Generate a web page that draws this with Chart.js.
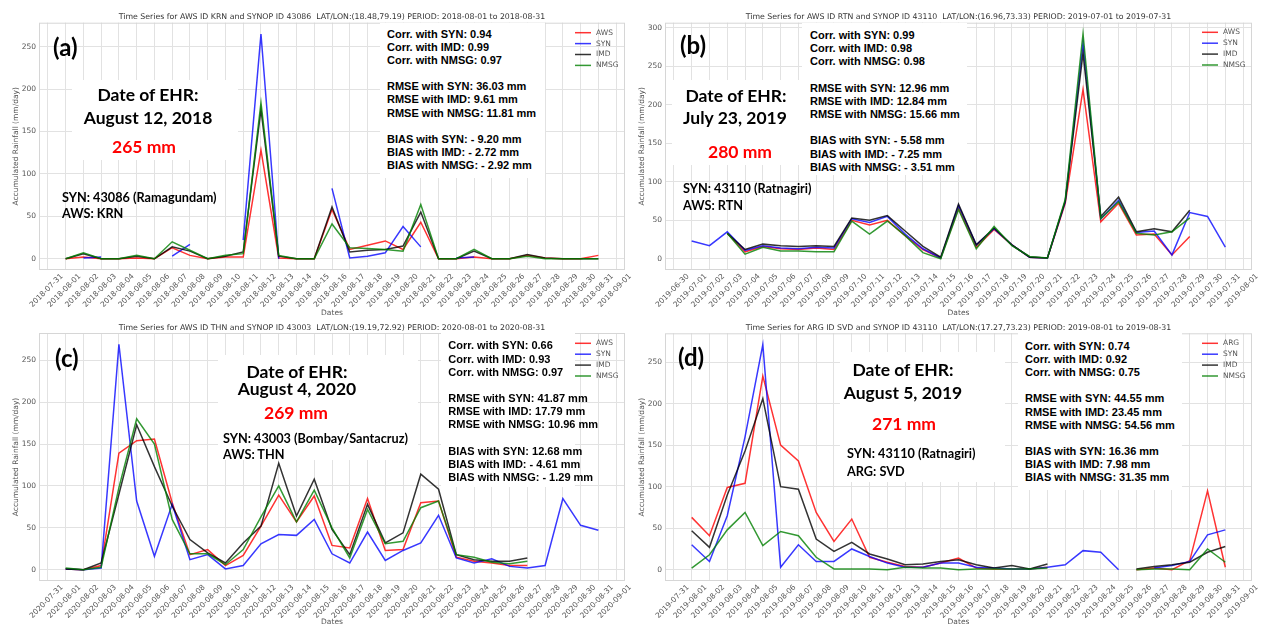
<!DOCTYPE html>
<html><head><meta charset="utf-8">
<script src="https://cdn.jsdelivr.net/npm/chart.js@4.4.1/dist/chart.umd.min.js"></script>
<style>
html,body{margin:0;padding:0;background:#fff;}
#wrap{position:relative;width:1266px;height:627px;overflow:hidden;background:#fff;}
canvas{position:absolute;}
.box{position:absolute;background:#fff;}
.stats{position:absolute;background:#fff;font-family:"Liberation Sans",Arial,sans-serif;font-weight:bold;font-size:11px;line-height:13.15px;color:#000;white-space:pre;box-sizing:border-box;}
.ann{position:absolute;font-family:Lato,"Open Sans",sans-serif;font-weight:bold;color:#000;white-space:nowrap;line-height:1;}
.c{transform:translate(-50%,-50%);}
.l{transform:translate(0,-50%);}
.big{font-size:17.5px;}
.mid{font-size:12.7px;}
.lab{font-size:24px;}
.red{color:#ff0000;}
</style></head>
<body><div id="wrap">
<canvas id="ca" width="633" height="320" style="left:0;top:0"></canvas>
<canvas id="cb" width="640" height="320" style="left:626px;top:0"></canvas>
<canvas id="cc" width="633" height="314" style="left:0;top:313px"></canvas>
<canvas id="cd" width="640" height="314" style="left:626px;top:313px"></canvas>

<!-- panel (a) -->
<div class="box" style="left:72px;top:80px;width:166px;height:80px"></div>
<div class="ann lab l" style="left:53px;top:47px">(a)</div>
<div class="ann big c" style="left:148px;top:95px">Date of EHR:</div>
<div class="ann big c" style="left:148px;top:118px">August 12, 2018</div>
<div class="ann big c red" style="left:144px;top:147px">265 mm</div>
<div class="ann mid l" style="left:62px;top:197px">SYN: 43086 (Ramagundam)</div>
<div class="ann mid l" style="left:62px;top:213px">AWS: KRN</div>
<div class="stats" style="left:380px;top:23px;width:165px;height:155px;padding:4.7px 0 0 7px">Corr. with SYN: 0.94
Corr. with IMD: 0.99
Corr. with NMSG: 0.97

RMSE with SYN: 36.03 mm
RMSE with IMD: 9.61 mm
RMSE with NMSG: 11.81 mm

BIAS with SYN: - 9.20 mm
BIAS with IMD: - 2.72 mm
BIAS with NMSG: - 2.92 mm</div>

<!-- panel (b) -->
<div class="box" style="left:672px;top:80px;width:130px;height:85px"></div>
<div class="ann lab l" style="left:680px;top:45px">(b)</div>
<div class="ann big c" style="left:736px;top:96px">Date of EHR:</div>
<div class="ann big c" style="left:735px;top:118px">July 23, 2019</div>
<div class="ann big c red" style="left:740px;top:152px">280 mm</div>
<div class="ann mid l" style="left:683px;top:188px">SYN: 43110 (Ratnagiri)</div>
<div class="ann mid l" style="left:683px;top:205px">AWS: RTN</div>
<div class="stats" style="left:802px;top:23px;width:165px;height:152px;padding:6.1px 0 0 8px">Corr. with SYN: 0.99
Corr. with IMD: 0.98
Corr. with NMSG: 0.98

RMSE with SYN: 12.96 mm
RMSE with IMD: 12.84 mm
RMSE with NMSG: 15.66 mm

BIAS with SYN: - 5.58 mm
BIAS with IMD: - 7.25 mm
BIAS with NMSG: - 3.51 mm</div>

<!-- panel (c) -->
<div class="box" style="left:218px;top:355px;width:200px;height:105px"></div>
<div class="ann lab l" style="left:55px;top:358px">(c)</div>
<div class="ann big c" style="left:297px;top:372px">Date of EHR:</div>
<div class="ann big c" style="left:297px;top:389px">August 4, 2020</div>
<div class="ann big c red" style="left:296px;top:413px">269 mm</div>
<div class="ann mid l" style="left:223px;top:438px">SYN: 43003 (Bombay/Santacruz)</div>
<div class="ann mid l" style="left:223px;top:454px">AWS: THN</div>
<div class="stats" style="left:441px;top:333px;width:134px;height:154px;padding:6.4px 0 0 7.3px">Corr. with SYN: 0.66
Corr. with IMD: 0.93
Corr. with NMSG: 0.97

RMSE with SYN: 41.87 mm
RMSE with IMD: 17.79 mm
RMSE with NMSG: 10.96 mm

BIAS with SYN: 12.68 mm
BIAS with IMD: - 4.61 mm
BIAS with NMSG: - 1.29 mm</div>

<!-- panel (d) -->
<div class="box" style="left:840px;top:352px;width:165px;height:130px"></div>
<div class="ann lab l" style="left:678px;top:357px">(d)</div>
<div class="ann big c" style="left:903px;top:370px">Date of EHR:</div>
<div class="ann big c" style="left:903px;top:393px">August 5, 2019</div>
<div class="ann big c red" style="left:904px;top:424px">271 mm</div>
<div class="ann mid l" style="left:847px;top:453px">SYN: 43110 (Ratnagiri)</div>
<div class="ann mid l" style="left:847px;top:471px">ARG: SVD</div>
<div class="stats" style="left:1018px;top:333px;width:164px;height:157px;padding:6.8px 0 0 7px">Corr. with SYN: 0.74
Corr. with IMD: 0.92
Corr. with NMSG: 0.75

RMSE with SYN: 44.55 mm
RMSE with IMD: 23.45 mm
RMSE with NMSG: 54.56 mm

BIAS with SYN: 16.36 mm
BIAS with IMD: 7.98 mm
BIAS with NMSG: 31.35 mm</div>
</div>

<script>
// ---------- Panel (a) ----------
const titleA = 'Time Series for AWS ID KRN and SYNOP ID 43086  LAT/LON:(18.48,79.19) PERIOD: 2018-08-01 to 2018-08-31';
const datesA = ['2018-08-01','2018-08-02','2018-08-03','2018-08-04','2018-08-05','2018-08-06','2018-08-07','2018-08-08','2018-08-09','2018-08-10','2018-08-11','2018-08-12','2018-08-13','2018-08-14','2018-08-15','2018-08-16','2018-08-17','2018-08-18','2018-08-19','2018-08-20','2018-08-21','2018-08-22','2018-08-23','2018-08-24','2018-08-25','2018-08-26','2018-08-27','2018-08-28','2018-08-29','2018-08-30','2018-08-31'];
const ticksA = ['2018-07-31', ...datesA, '2018-09-01'];
const labelsA = ['AWS','SYN','IMD','NMSG'];
const awsA  = [0,2,0,0,1,0,13,4,0,2,2,128,1,0,0,58,11,16,21,11,43,0,0,2,0,0,4,1,0,0,4];
const synA  = [null,1,2,null,null,null,3,17,null,null,22,265,0,null,null,83,1,3,7,38,14,null,1,2,null,null,null,null,null,null,null];
const imdA  = [0,6,0,0,3,0,14,9,0,3,8,176,3,0,0,61,8,10,11,15,55,0,0,9,0,0,5,1,0,0,0];
const nmsgA = [0,7,0,0,4,0,20,10,0,4,6,184,4,0,0,41,13,12,11,9,64,0,0,11,0,0,3,0,0,0,0];
const yRangeA = [-13.25, 278.25];
const yTicksA = [0,50,100,150,200,250];

// ---------- Panel (b) ----------
const titleB = 'Time Series for AWS ID RTN and SYNOP ID 43110  LAT/LON:(16.96,73.33) PERIOD: 2019-07-01 to 2019-07-31';
const datesB = ['2019-07-01','2019-07-02','2019-07-03','2019-07-04','2019-07-05','2019-07-06','2019-07-07','2019-07-08','2019-07-09','2019-07-10','2019-07-11','2019-07-12','2019-07-13','2019-07-14','2019-07-15','2019-07-16','2019-07-17','2019-07-18','2019-07-19','2019-07-20','2019-07-21','2019-07-22','2019-07-23','2019-07-24','2019-07-25','2019-07-26','2019-07-27','2019-07-28','2019-07-29','2019-07-30','2019-07-31'];
const ticksB = ['2019-06-30', ...datesB, '2019-08-01'];
const labelsB = ['AWS','SYN','IMD','NMSG'];
const awsB  = [null,null,33,9,16,13,12,14,12,50,44,50,30,12,1,66,15,38,18,2,1,72,220,48,72,31,32,5,29,null,null];
const synB  = [23,17,35,11,17,14,13,15,14,52,47,55,32,13,1,69,18,39,18,2,1,74,280,52,76,34,36,5,60,55,15];
const imdB  = [null,null,33,12,19,17,16,17,16,53,50,56,36,16,2,71,18,40,18,2,1,75,267,55,80,35,39,35,63,null,null];
const nmsgB = [null,null,33,6,15,10,10,9,9,49,32,49,30,8,0,64,13,42,17,3,1,77,292,52,74,33,31,35,53,null,null];
const yRangeB = [-14.6, 306.6];
const yTicksB = [0,50,100,150,200,250,300];

// ---------- Panel (c) ----------
const titleC = 'Time Series for AWS ID THN and SYNOP ID 43003  LAT/LON:(19.19,72.92) PERIOD: 2020-08-01 to 2020-08-31';
const datesC = ['2020-08-01','2020-08-02','2020-08-03','2020-08-04','2020-08-05','2020-08-06','2020-08-07','2020-08-08','2020-08-09','2020-08-10','2020-08-11','2020-08-12','2020-08-13','2020-08-14','2020-08-15','2020-08-16','2020-08-17','2020-08-18','2020-08-19','2020-08-20','2020-08-21','2020-08-22','2020-08-23','2020-08-24','2020-08-25','2020-08-26','2020-08-27','2020-08-28','2020-08-29','2020-08-30','2020-08-31'];
const ticksC = ['2020-07-31', ...datesC, '2020-09-01'];
const labelsC = ['AWS','SYN','IMD','NMSG'];
const awsC  = [1,0,5,139,154,156,80,18,24,5,17,52,89,57,88,29,26,85,23,24,80,82,15,10,8,5,5,null,null,null,null];
const synC  = [1,0,2,269,82,16,78,12,18,1,5,31,42,41,60,19,8,45,11,23,32,65,14,8,13,4,2,5,85,53,47];
const imdC  = [1,0,8,90,173,123,76,36,20,8,32,52,127,64,108,48,18,78,32,44,114,96,18,12,10,10,14,null,null,null,null];
const nmsgC = [2,0,3,98,180,150,60,19,19,6,24,63,100,57,95,50,14,72,31,34,74,82,18,15,9,7,10,null,null,null,null];
const yRangeC = [-13.45, 282.45];
const yTicksC = [0,50,100,150,200,250];

// ---------- Panel (d) ----------
const titleD = 'Time Series for ARG ID SVD and SYNOP ID 43110  LAT/LON:(17.27,73.23) PERIOD: 2019-08-01 to 2019-08-31';
const datesD = ['2019-08-01','2019-08-02','2019-08-03','2019-08-04','2019-08-05','2019-08-06','2019-08-07','2019-08-08','2019-08-09','2019-08-10','2019-08-11','2019-08-12','2019-08-13','2019-08-14','2019-08-15','2019-08-16','2019-08-17','2019-08-18','2019-08-19','2019-08-20','2019-08-21','2019-08-22','2019-08-23','2019-08-24','2019-08-25','2019-08-26','2019-08-27','2019-08-28','2019-08-29','2019-08-30','2019-08-31'];
const ticksD = ['2019-07-31', ...datesD, '2019-09-01'];
const labelsD = ['ARG','SYN','IMD','NMSG'];
const argD  = [63,41,99,104,233,150,131,69,34,61,15,9,4,3,8,14,2,1,1,1,3,null,null,null,null,0,2,0,11,95,3];
const synD  = [30,10,65,160,271,3,30,10,10,25,16,8,3,3,8,8,3,2,1,1,3,6,23,21,0,null,2,5,10,42,48];
const imdD  = [47,27,90,143,206,100,97,37,22,33,19,13,6,7,10,12,6,2,5,1,7,null,null,null,null,1,4,6,9,21,28];
const nmsgD = [2,18,48,69,29,46,41,15,1,1,1,0,3,2,2,0,1,1,1,1,2,null,null,null,null,0,1,1,0,25,9];
const yRangeD = [-13.55, 284.55];
const yTicksD = [0,50,100,150,200,250];

const seriesColors = ['rgba(255,0,0,0.8)','rgba(0,0,255,0.78)','rgba(0,0,0,0.8)','rgba(0,128,0,0.8)'];
const TICK_FONT = {family: '"DejaVu Sans"', size: 7.5};
const TEXT_GRAY = '#555';
const GRID = '#e2e2e2';

const panelDeco = {
  id: 'panelDeco',
  afterDraw(chart, args, opts) {
    const {ctx, chartArea: a} = chart;
    ctx.save();
    ctx.strokeStyle = '#d6d6d6'; ctx.lineWidth = 1;
    ctx.strokeRect(a.left + 0.5, a.top + 0.5, a.right - a.left - 1, a.bottom - a.top - 1);
    ctx.fillStyle = '#333';
    ctx.font = '7.8px "DejaVu Sans"';
    ctx.textAlign = 'center'; ctx.textBaseline = 'middle';
    ctx.fillText(opts.title, (a.left + a.right) / 2, a.top - opts.titleGap);
    ctx.font = '7.5px "DejaVu Sans"';
    ctx.textAlign = 'left';
    chart.data.datasets.forEach((ds, i) => {
      const y = a.top + opts.legendTop + i * 10.9;
      const x0 = a.right + opts.legendRight;
      ctx.strokeStyle = ds.borderColor; ctx.lineWidth = 1.5;
      ctx.beginPath(); ctx.moveTo(x0, y); ctx.lineTo(x0 + 16, y); ctx.stroke();
      ctx.fillStyle = TEXT_GRAY;
      ctx.fillText(ds.label, x0 + 21, y);
    });
    ctx.restore();
  }
};

function makeChart(id, cfg) {
  return new Chart(document.getElementById(id), {
    type: 'line',
    data: {
      labels: cfg.ticks,
      datasets: cfg.series.map((vals, k) => ({
        label: cfg.labels[k],
        data: cfg.dates.map((d, i) => ({x: d, y: vals[i]})),
        borderColor: seriesColors[k],
        borderWidth: 1.5,
        pointRadius: 0,
        fill: false,
        tension: 0,
        spanGaps: false,
        order: 3 - k
      }))
    },
    options: {
      responsive: false,
      animation: false,
      devicePixelRatio: 1,
      layout: {padding: {top: cfg.top, right: cfg.right, left: 0, bottom: 0}},
      plugins: {
        legend: {display: false},
        tooltip: {enabled: false},
        title: {display: false},
        panelDeco: {title: cfg.title, titleGap: cfg.titleGap, legendTop: cfg.legendTop, legendRight: -50}
      },
      scales: {
        x: {
          type: 'category',
          offset: true,
          grid: {offset: false, color: GRID, lineWidth: 1, drawTicks: false},
          border: {display: false},
          ticks: {autoSkip: false, minRotation: 45, maxRotation: 45, labelOffset: 14, padding: 2, color: TEXT_GRAY, font: TICK_FONT},
          title: {display: true, text: 'Dates', color: TEXT_GRAY, font: TICK_FONT, padding: {top: 0, bottom: cfg.datesPad}},
          afterFit(s) { s.height = cfg.xh; }
        },
        y: {
          min: cfg.yRange[0],
          max: cfg.yRange[1],
          afterBuildTicks(s) { s.ticks = cfg.yTicks.map(v => ({value: v})); },
          grid: {color: GRID, lineWidth: 1, drawTicks: false},
          border: {display: false},
          ticks: {padding: 3, color: TEXT_GRAY, font: TICK_FONT},
          title: {display: true, text: 'Accumulated Rainfall (mm/day)', color: TEXT_GRAY, font: TICK_FONT, padding: {top: 11.2, bottom: 0}},
          afterFit(s) { s.width = 39; }
        }
      }
    },
    plugins: [panelDeco]
  });
}

makeChart('ca', {title: titleA, dates: datesA, ticks: ticksA, labels: labelsA, series: [awsA, synA, imdA, nmsgA], yRange: yRangeA, yTicks: yTicksA, top: 22.7, right: 8, xh: 50, datesPad: 2.5, titleGap: 5.7, legendTop: 10});
makeChart('cb', {title: titleB, dates: datesB, ticks: ticksB, labels: labelsB, series: [awsB, synB, imdB, nmsgB], yRange: yRangeB, yTicks: yTicksB, top: 22.7, right: 14, xh: 50, datesPad: 2.5, titleGap: 5.7, legendTop: 9.6});
makeChart('cc', {title: titleC, dates: datesC, ticks: ticksC, labels: labelsC, series: [awsC, synC, imdC, nmsgC], yRange: yRangeC, yTicks: yTicksC, top: 20, right: 8, xh: 46, datesPad: 0, titleGap: 4.7, legendTop: 10.3});
makeChart('cd', {title: titleD, dates: datesD, ticks: ticksD, labels: labelsD, series: [argD, synD, imdD, nmsgD], yRange: yRangeD, yTicks: yTicksD, top: 20.3, right: 14, xh: 46, datesPad: 0, titleGap: 5, legendTop: 10});
</script>
</body></html>
